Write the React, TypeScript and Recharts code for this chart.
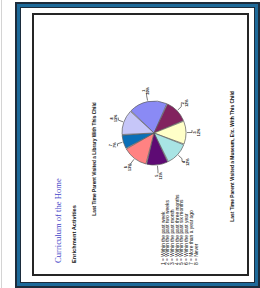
import { PieChart, Pie, Cell } from 'recharts';

const categories = ['1', '2', '3', '4', '5', '6', '7', '8'];
const shares = [20, 12, 12, 12, 11, 13, 7, 13];
const sliceColors = ['#8a8af5', '#82225f', '#ffffc8', '#a8e4e4', '#5e0a74', '#ff8282', '#0a6fb8', '#c6c6f8'];
const legendLines = [
  '1 = Within the past week',
  '2 = Within the past two weeks',
  '3 = Within the past month',
  '4 = Within the past three months',
  '5 = Within the past six months',
  '6 = Within the past year',
  '7 = More than a year ago',
  '8 = Never',
];
const title = 'Curriculum of the Home';
const subtitle = 'Enrichment Activities';
const chartTitle = 'Last Time Parent Visited a Library With This Child';
const nextChartTitle = 'Last Time Parent Visited a Museum, Etc. With This Child';

const pieData = categories.map((name, i) => ({ name, value: shares[i] }));

const RAD = Math.PI / 180;
const sans = '"Liberation Sans", Arial, sans-serif';

function renderLabel(props: any) {
  const { cx, cy, midAngle, outerRadius, index } = props;
  const cos = Math.cos(-midAngle * RAD);
  const sin = Math.sin(-midAngle * RAD);
  const x1 = cx + (outerRadius + 1) * cos;
  const y1 = cy + (outerRadius + 1) * sin;
  const x2 = cx + (outerRadius + 6) * cos;
  const y2 = cy + (outerRadius + 6) * sin;
  const x3 = x2 + (cos >= 0 ? 2.5 : -2.5);
  const lx = cx + (outerRadius + 11) * cos;
  const ly = cy + (outerRadius + 11) * sin;
  return (
    <g>
      <polyline points={`${x1},${y1} ${x2},${y2} ${x3},${y2}`} fill="none" stroke="#222" strokeWidth={0.6} />
      <text x={lx} y={ly - 0.6} textAnchor="middle" fontSize={3.7} fontWeight="bold" fontFamily={sans} fill="#111">
        {categories[index]}
      </text>
      <text x={lx} y={ly + 3.5} textAnchor="middle" fontSize={3.7} fontWeight="bold" fontFamily={sans} fill="#111">
        {shares[index]}%
      </text>
    </g>
  );
}

export default function App() {
  return (
    <div style={{ position: 'fixed', left: 0, top: 0, width: 260, height: 288, background: '#fff', overflow: 'hidden' }}>
      <div style={{ position: 'absolute', left: 1, top: 0, width: 1, height: 288, background: '#d4d4d4' }} />
      <div
        style={{
          position: 'absolute',
          left: 15,
          top: 2,
          width: 245,
          height: 286,
          boxSizing: 'border-box',
          border: '2px solid #1c2c3c',
          boxShadow: 'inset 0 0 0 3px #1d6a9a, inset 0 0 0 4px #1c2c3c',
        }}
      />
      <div
        style={{
          position: 'absolute',
          left: 32,
          top: 13,
          width: 217,
          height: 263,
          boxSizing: 'border-box',
          border: '2px solid #252525',
          background: '#fff',
        }}
      />
      <div
        style={{
          position: 'absolute',
          left: 11,
          top: 38,
          width: 259,
          height: 213,
          transform: 'rotate(-90deg)',
          transformOrigin: '50% 50%',
        }}
      >
        <div style={{ position: 'absolute', left: 11, top: 20, fontSize: 8.6, lineHeight: 1, fontFamily: '"Liberation Serif", "Times New Roman", serif', color: '#4646c8', whiteSpace: 'nowrap' }}>
          {title}
        </div>
        <div style={{ position: 'absolute', left: 11, top: 38, fontSize: 5.7, lineHeight: 1, fontFamily: sans, fontWeight: 'bold', color: '#111', whiteSpace: 'nowrap' }}>
          {subtitle}
        </div>
        <div style={{ position: 'absolute', left: 0, width: 230, top: 58.5, textAlign: 'center', fontSize: 4.8, lineHeight: 1, fontFamily: sans, fontWeight: 'bold', color: '#111', whiteSpace: 'nowrap' }}>
          {chartTitle}
        </div>
        <div style={{ position: 'absolute', left: 9, top: 127.6, fontSize: 4.9, lineHeight: '4.7px', fontFamily: sans, color: '#111', whiteSpace: 'nowrap' }}>
          {legendLines.map((l) => (
            <div key={l}>{l}</div>
          ))}
        </div>
        <div style={{ position: 'absolute', left: 0, width: 235, top: 197.4, textAlign: 'center', fontSize: 4.9, lineHeight: 1, fontFamily: sans, fontWeight: 'bold', color: '#111', whiteSpace: 'nowrap' }}>
          {nextChartTitle}
        </div>
        <PieChart width={259} height={213} style={{ position: 'absolute', left: 0, top: 0 }}>
          <Pie
            data={pieData}
            dataKey="value"
            nameKey="name"
            cx={136}
            cy={115}
            outerRadius={32}
            startAngle={46}
            endAngle={-314}
            paddingAngle={1.5}
            stroke="#5a5a5a"
            strokeWidth={0.7}
            label={renderLabel}
            labelLine={false}
            isAnimationActive={false}
          >
            {pieData.map((d, i) => (
              <Cell key={d.name} fill={sliceColors[i]} />
            ))}
          </Pie>
        </PieChart>
      </div>
    </div>
  );
}
